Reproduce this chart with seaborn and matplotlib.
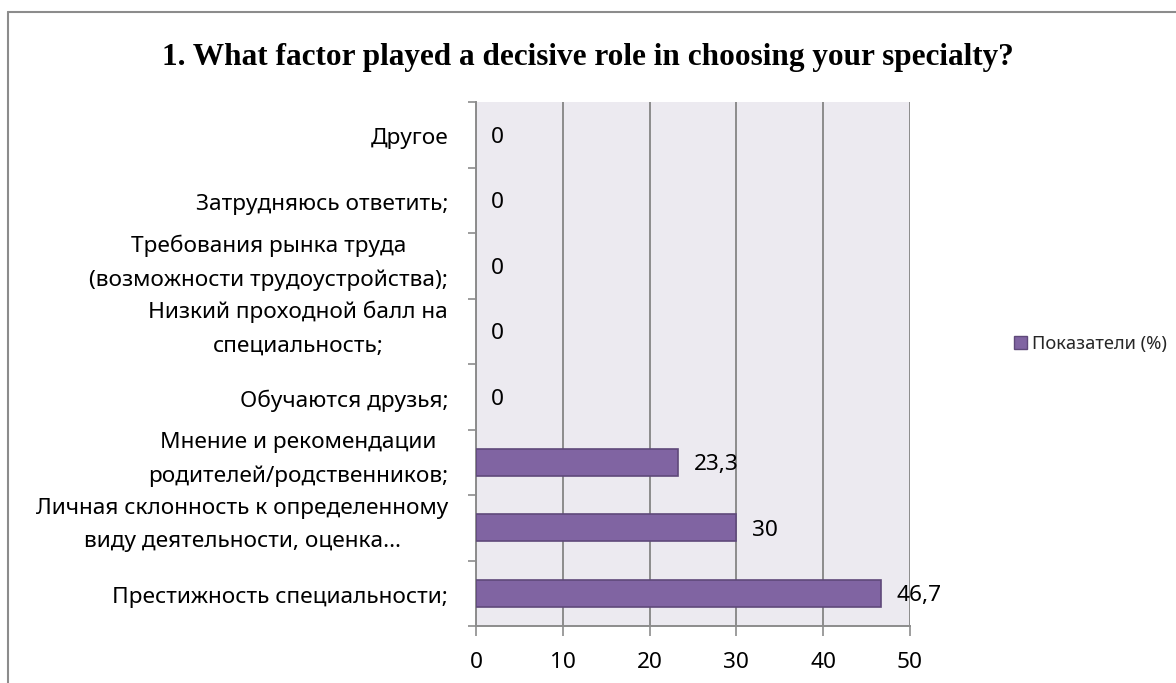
import matplotlib
matplotlib.use("Agg")
import matplotlib.pyplot as plt
import seaborn as sns
import pandas as pd
from matplotlib.patches import Patch
from matplotlib.lines import Line2D
from matplotlib.ticker import FixedLocator

categories = [
    "Другое",
    "Затрудняюсь ответить;",
    "Требования рынка труда\n(возможности трудоустройства);",
    "Низкий проходной балл на\nспециальность;",
    "Обучаются друзья;",
    "Мнение и рекомендации\nродителей/родственников;",
    "Личная склонность к определенному\nвиду деятельности, оценка…",
    "Престижность специальности;",
]
values = [0, 0, 0, 0, 0, 23.3, 30, 46.7]
x_ticks = [0, 10, 20, 30, 40, 50]
series_name = "Показатели (%)"
title = "1. What factor played a decisive role in choosing your specialty?"

df = pd.DataFrame({"category": categories, "value": values})

sns.set_theme(style="white")
plt.rcParams["font.family"] = ["Noto Sans", "DejaVu Sans"]

W, H = 1176, 683
fig = plt.figure(figsize=(W / 100, H / 100), dpi=100)
ax = fig.add_axes([476 / W, 1 - 626 / H, (910 - 476) / W, (626 - 102) / H])

bar_color = "#8064A2"
edge_color = "#5F497A"
grid_color = "#8C8C8C"
fs = 16.3

sns.barplot(data=df, y="category", x="value", orient="h", color=bar_color,
            edgecolor=edge_color, linewidth=1.2, width=0.41, ax=ax, zorder=3,
            saturation=1)
for p in ax.patches:
    if p.get_width() == 0:
        p.set_visible(False)

ax.set_facecolor("#ECEAF0")
ax.set_xlim(0, 50)
ax.set_ylim(len(categories) - 0.5, -0.5)
ax.set_xticks(x_ticks)
ax.set_xticklabels([str(t) for t in x_ticks], fontsize=fs, color="black")
ax.set_yticks(range(len(categories)))
ax.set_yticklabels([])
ax.grid(axis="x", color=grid_color, linewidth=1.4, zorder=0)
ax.grid(axis="y", visible=False)
ax.set_axisbelow(True)
ax.set_xlabel("")
ax.set_ylabel("")

# category labels (right-aligned block, lines centred as in the original)
ytrans = ax.get_yaxis_transform()
for i, cat in enumerate(categories):
    two_line = "\n" in cat
    ax.annotate(cat, xy=(0, i), xycoords=ytrans,
                xytext=(-20, 2 if two_line else -1), textcoords="offset points",
                ha="right", va="center" if two_line else "center_baseline",
                multialignment="center", linespacing=1.75,
                fontsize=fs, color="black", annotation_clip=False)

ax.tick_params(axis="y", which="major", length=0)
ax.yaxis.set_minor_locator(FixedLocator([i - 0.5 for i in range(len(categories) + 1)]))
ax.tick_params(axis="y", which="minor", length=6, width=1.2, color=grid_color, left=True)
ax.tick_params(axis="x", which="major", length=7, width=1.2, color=grid_color, bottom=True,
               pad=12)

for side in ["top", "right"]:
    ax.spines[side].set_visible(False)
for side in ["left", "bottom"]:
    ax.spines[side].set_color(grid_color)
    ax.spines[side].set_linewidth(1.4)

for i, v in enumerate(values):
    txt = f"{v:g}".replace(".", ",")
    ax.annotate(txt, xy=(v, i), xytext=(11, 0), textcoords="offset points",
                ha="left", va="center_baseline", fontsize=fs, color="black", zorder=4)

fig.text(588 / W, 1 - 57 / H, title, ha="center", va="center",
         fontsize=22.5, fontweight="bold", family="Liberation Serif", color="black")

handle = Patch(facecolor=bar_color, edgecolor=edge_color, linewidth=1.0)
fig.legend([handle], [series_name], loc="center left",
           bbox_to_anchor=(1014 / W, 1 - 344 / H), frameon=False,
           fontsize=13.2, handlelength=0.7, handleheight=0.7, handletextpad=0.3,
           borderaxespad=0, borderpad=0)

fig.add_artist(Line2D([8 / W, 8 / W], [0, 1 - 12 / H], transform=fig.transFigure,
                      color="#8C8C8C", linewidth=1.5))
fig.add_artist(Line2D([8 / W, 1], [1 - 12 / H, 1 - 12 / H], transform=fig.transFigure,
                      color="#8C8C8C", linewidth=1.5))

fig.savefig("out.png", dpi=100)
